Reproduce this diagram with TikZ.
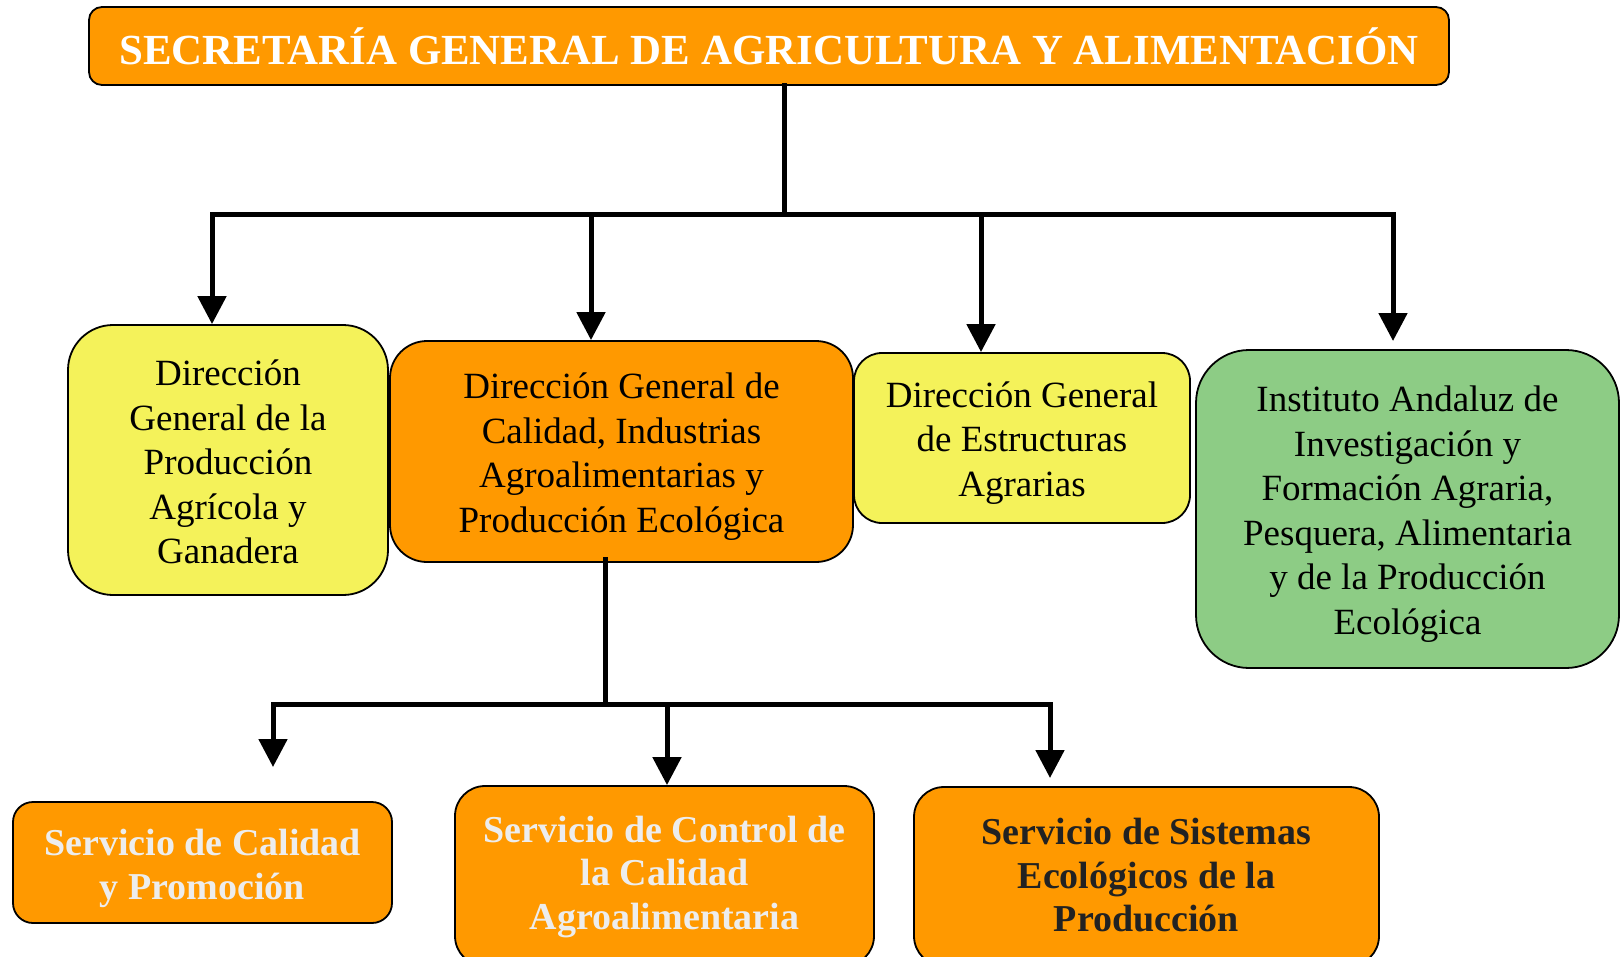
\documentclass[tikz,border=0pt]{standalone}
\usepackage{fontspec}
\setmainfont{Liberation Serif}
\usetikzlibrary{arrows.meta}
\definecolor{orng}{HTML}{FF9900}
\definecolor{yell}{HTML}{F4F25A}
\definecolor{grn}{HTML}{8DCC85}
\definecolor{lgray}{HTML}{EDEDED}
\definecolor{dgray}{HTML}{222222}
\tikzset{
  box/.style={draw=black, line width=1.8pt, align=center, inner sep=0pt, text depth=0pt},
  bodytxt/.style={font=\fontsize{37}{44.5}\selectfont},
  boldtxt/.style={font=\fontsize{38}{43.5}\selectfont\bfseries},
  conn/.style={line width=5pt, line cap=rect},
  arr/.style={line width=5pt, -{Triangle[length=28pt,width=28pt]}}
}
\begin{document}
\begin{tikzpicture}[x=1pt,y=-1pt]
\useasboundingbox (0,0) rectangle (1622,956);
% top
\node[box, fill=orng, rounded corners=13pt, minimum width=1360pt, minimum height=78pt,
      text=white, font=\fontsize{42.9}{50}\selectfont\bfseries, text depth=] (title) at (769,46)
      {SECRETARÍA GENERAL DE AGRICULTURA Y ALIMENTACIÓN};
% level 1
\node[box, bodytxt, fill=yell, rounded corners=45pt, minimum width=320pt, minimum height=270pt, text height=207.5pt] (b1) at (228,460)
  {Dirección\\General de la\\Producción\\Agrícola y\\Ganadera};
\node[box, bodytxt, fill=orng, rounded corners=37pt, minimum width=463pt, minimum height=221pt, text height=161pt] (b2) at (621.5,451.5)
  {Dirección General de\\Calidad, Industrias\\Agroalimentarias y\\Producción Ecológica};
\node[box, bodytxt, fill=yell, rounded corners=28pt, minimum width=336pt, minimum height=170pt, text height=116.5pt] (b3) at (1022,438)
  {Dirección General\\de Estructuras\\Agrarias};
\node[box, bodytxt, fill=grn, rounded corners=53pt, minimum width=423pt, minimum height=318pt, text height=250pt] (b4) at (1407.5,509)
  {Instituto Andaluz de\\Investigación y\\Formación Agraria,\\Pesquera, Alimentaria\\y de la Producción\\Ecológica};
% level 2
\node[box, boldtxt, fill=orng, text=lgray, rounded corners=20pt, minimum width=379pt, minimum height=121pt, text height=73pt] (b5) at (202.5,862.5)
  {Servicio de Calidad\\y Promoción};
\node[box, boldtxt, fill=orng, text=lgray, rounded corners=30pt, minimum width=419pt, minimum height=180pt, text height=106.5pt] (b6) at (664.5,876)
  {Servicio de Control de\\la Calidad\\Agroalimentaria};
\node[box, boldtxt, fill=orng, text=dgray, rounded corners=30pt, minimum width=465pt, minimum height=179pt, text height=110.7pt] (b7) at (1146.5,876.5)
  {Servicio de Sistemas\\Ecológicos de la\\Producción};
% connector coordinates
\coordinate (j1) at (784,214);
\coordinate (a1) at (212,214);
\coordinate (a2) at (591,214);
\coordinate (a3) at (981,214);
\coordinate (a4) at (1393,214);
\coordinate (e4) at (1393,341);
\coordinate (j2) at (605,704);
\coordinate (c1) at (273,704);
\coordinate (c2) at (667,704);
\coordinate (c3) at (1050,704);
\coordinate (f1) at (273,767);
\coordinate (f3) at (1050,778);
% level-1 connectors
\draw[conn] (title.south -| j1) -- (j1);
\draw[conn] (a1) -- (a4);
\draw[arr] (a1) -- (a1 |- b1.north);
\draw[arr] (a2) -- (a2 |- b2.north);
\draw[arr] (a3) -- (a3 |- b3.north);
\draw[arr] (a4) -- (e4);
% level-2 connectors
\draw[conn] ([yshift=3pt]b2.south -| j2) -- (j2);
\draw[conn] (c1) -- (c3);
\draw[arr] (c1) -- (f1);
\draw[arr] (c2) -- (c2 |- b6.north);
\draw[arr] (c3) -- (f3);
\end{tikzpicture}
\end{document}
